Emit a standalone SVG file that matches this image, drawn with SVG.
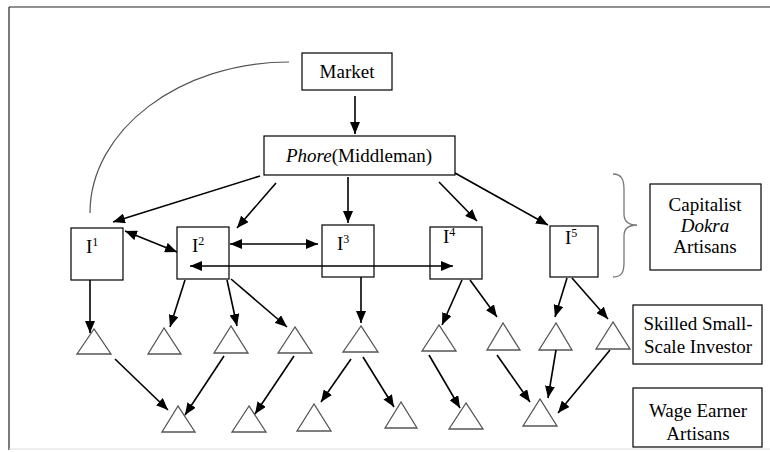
<svg xmlns="http://www.w3.org/2000/svg" width="770" height="452" viewBox="0 0 770 452">
<defs>
<marker id="ah" viewBox="0 0 12 10" refX="12" refY="5" markerWidth="12" markerHeight="10" markerUnits="userSpaceOnUse" orient="auto-start-reverse">
<path d="M0,0 L12,5 L0,10 z" fill="#000"/>
</marker>
<style>
.box{fill:#fff;stroke:#000;stroke-width:1.2}
.tri{fill:#fff;stroke:#555;stroke-width:1.3}
text{font-family:'Liberation Serif','DejaVu Serif',serif;font-size:19px;fill:#000}
.sup{font-size:12px}
.a{stroke:#000;stroke-width:1.6;fill:none;marker-end:url(#ah)}
.d{stroke:#000;stroke-width:1.6;fill:none;marker-end:url(#ah);marker-start:url(#ah)}
</style>
</defs>
<rect width="770" height="452" fill="#fff"/>
<g id="frame">
<line x1="9" y1="7" x2="770" y2="7" stroke="#222" stroke-width="1.2"/>
<line x1="9" y1="7" x2="9" y2="450" stroke="#222" stroke-width="1.2"/>
<line x1="9" y1="449" x2="770" y2="449" stroke="#ddd" stroke-width="1"/>
</g>
<g id="market"><rect class="box" x="302" y="53" width="90" height="37"/><text font-family="Liberation Serif, serif" x="347" y="78" text-anchor="middle">Market</text></g>
<g id="phore"><rect class="box" x="264" y="136" width="191" height="39"/><text font-family="Liberation Serif, serif" x="359" y="162" text-anchor="middle"><tspan font-style="italic">Phore</tspan>(Middleman)</text></g>
<g id="I1"><rect class="box" x="71" y="228" width="52" height="52"/><text font-family="Liberation Serif, serif" x="86" y="253">I<tspan class="sup" dy="-7">1</tspan></text></g>
<g id="I2"><rect class="box" x="177" y="227" width="52" height="52"/><text font-family="Liberation Serif, serif" x="192" y="252">I<tspan class="sup" dy="-7">2</tspan></text></g>
<g id="I3"><rect class="box" x="322" y="225" width="52" height="52"/><text font-family="Liberation Serif, serif" x="337" y="250">I<tspan class="sup" dy="-7">3</tspan></text></g>
<g id="I4"><rect class="box" x="430" y="227" width="52" height="52"/><text font-family="Liberation Serif, serif" x="443" y="243">I<tspan class="sup" dy="-7">4</tspan></text></g>
<g id="I5"><rect class="box" x="550" y="226" width="48" height="51"/><text font-family="Liberation Serif, serif" x="565" y="244">I<tspan class="sup" dy="-7">5</tspan></text></g>
<g id="brace"><path d="M613,174 C622,174 624,180 624,190 L624,214 C624,221 628,225 637,225 C628,225 624,229 624,236 L624,262 C624,272 622,277 613,277" stroke="#777" stroke-width="1.3" fill="none"/></g>
<g id="capitalist"><rect class="box" x="650" y="184" width="111" height="86"/><text font-family="Liberation Serif, serif" text-anchor="middle"><tspan x="705" y="211">Capitalist</tspan><tspan x="705" y="232" font-style="italic">Dokra</tspan><tspan x="705" y="253">Artisans</tspan></text></g>
<g id="skilled"><rect class="box" x="633" y="305" width="129" height="59"/><text font-family="Liberation Serif, serif" text-anchor="middle"><tspan x="698" y="330">Skilled Small-</tspan><tspan x="698" y="353">Scale Investor</tspan></text></g>
<g id="wage"><rect class="box" x="633" y="388" width="129" height="59"/><text font-family="Liberation Serif, serif" text-anchor="middle"><tspan x="698" y="417">Wage Earner</tspan><tspan x="698" y="440">Artisans</tspan></text></g>
<g id="T1"><polygon class="tri" points="94,329 77,354 111,354"/></g>
<g id="T2"><polygon class="tri" points="164,328 148,354 181,354"/></g>
<g id="T3"><polygon class="tri" points="231,326 214,353 248,353"/></g>
<g id="T4"><polygon class="tri" points="295,327 278,353 312,353"/></g>
<g id="T5"><polygon class="tri" points="361,326 343,352 378,352"/></g>
<g id="T6"><polygon class="tri" points="439,325 422,351 456,351"/></g>
<g id="T7"><polygon class="tri" points="503,323 487,350 520,350"/></g>
<g id="T8"><polygon class="tri" points="556,323 539,350 572,350"/></g>
<g id="T9"><polygon class="tri" points="613,322 596,349 630,349"/></g>
<g id="B1"><polygon class="tri" points="178,406 162,432 195,432"/></g>
<g id="B2"><polygon class="tri" points="249,406 232,432 266,432"/></g>
<g id="B3"><polygon class="tri" points="314,404 297,431 331,431"/></g>
<g id="B4"><polygon class="tri" points="401,402 385,428 417,428"/></g>
<g id="B5"><polygon class="tri" points="466,403 449,429 483,429"/></g>
<g id="B6"><polygon class="tri" points="540,399 523,426 557,426"/></g>
<g id="connectors">
<path d="M289,62 C180,62 90,130 90,213" stroke="#555" stroke-width="1.2" fill="none"/>
<line class="a" x1="355" y1="96" x2="355" y2="134"/>
<line class="a" x1="260" y1="176" x2="113" y2="222"/>
<line class="a" x1="276" y1="183" x2="237" y2="228"/>
<line class="a" x1="348" y1="177" x2="348" y2="223"/>
<line class="a" x1="439" y1="182" x2="477" y2="221"/>
<line class="a" x1="455" y1="173" x2="548" y2="225"/>
<line class="d" x1="125" y1="231" x2="177" y2="252"/>
<line class="d" x1="230" y1="244" x2="318" y2="244"/>
<line class="d" x1="190" y1="266" x2="453" y2="266"/>
<line class="a" x1="90" y1="280" x2="90" y2="333"/>
<line class="a" x1="185" y1="280" x2="170" y2="327"/>
<line class="a" x1="227" y1="280" x2="237" y2="326"/>
<line class="a" x1="231" y1="279" x2="287" y2="327"/>
<line class="a" x1="361" y1="277" x2="361" y2="323"/>
<line class="a" x1="462" y1="280" x2="442" y2="325"/>
<line class="a" x1="470" y1="280" x2="497" y2="317"/>
<line class="a" x1="567" y1="278" x2="555" y2="317"/>
<line class="a" x1="572" y1="278" x2="608" y2="319"/>
<line class="a" x1="115" y1="359" x2="168" y2="410"/>
<line class="a" x1="224" y1="356" x2="185" y2="415"/>
<line class="a" x1="294" y1="356" x2="255" y2="414"/>
<line class="a" x1="351" y1="359" x2="321" y2="402"/>
<line class="a" x1="363" y1="357" x2="394" y2="407"/>
<line class="a" x1="429" y1="355" x2="460" y2="408"/>
<line class="a" x1="497" y1="355" x2="530" y2="402"/>
<line class="a" x1="556" y1="350" x2="548" y2="398"/>
<line class="a" x1="610" y1="350" x2="558" y2="413"/>
</g>
</svg>
